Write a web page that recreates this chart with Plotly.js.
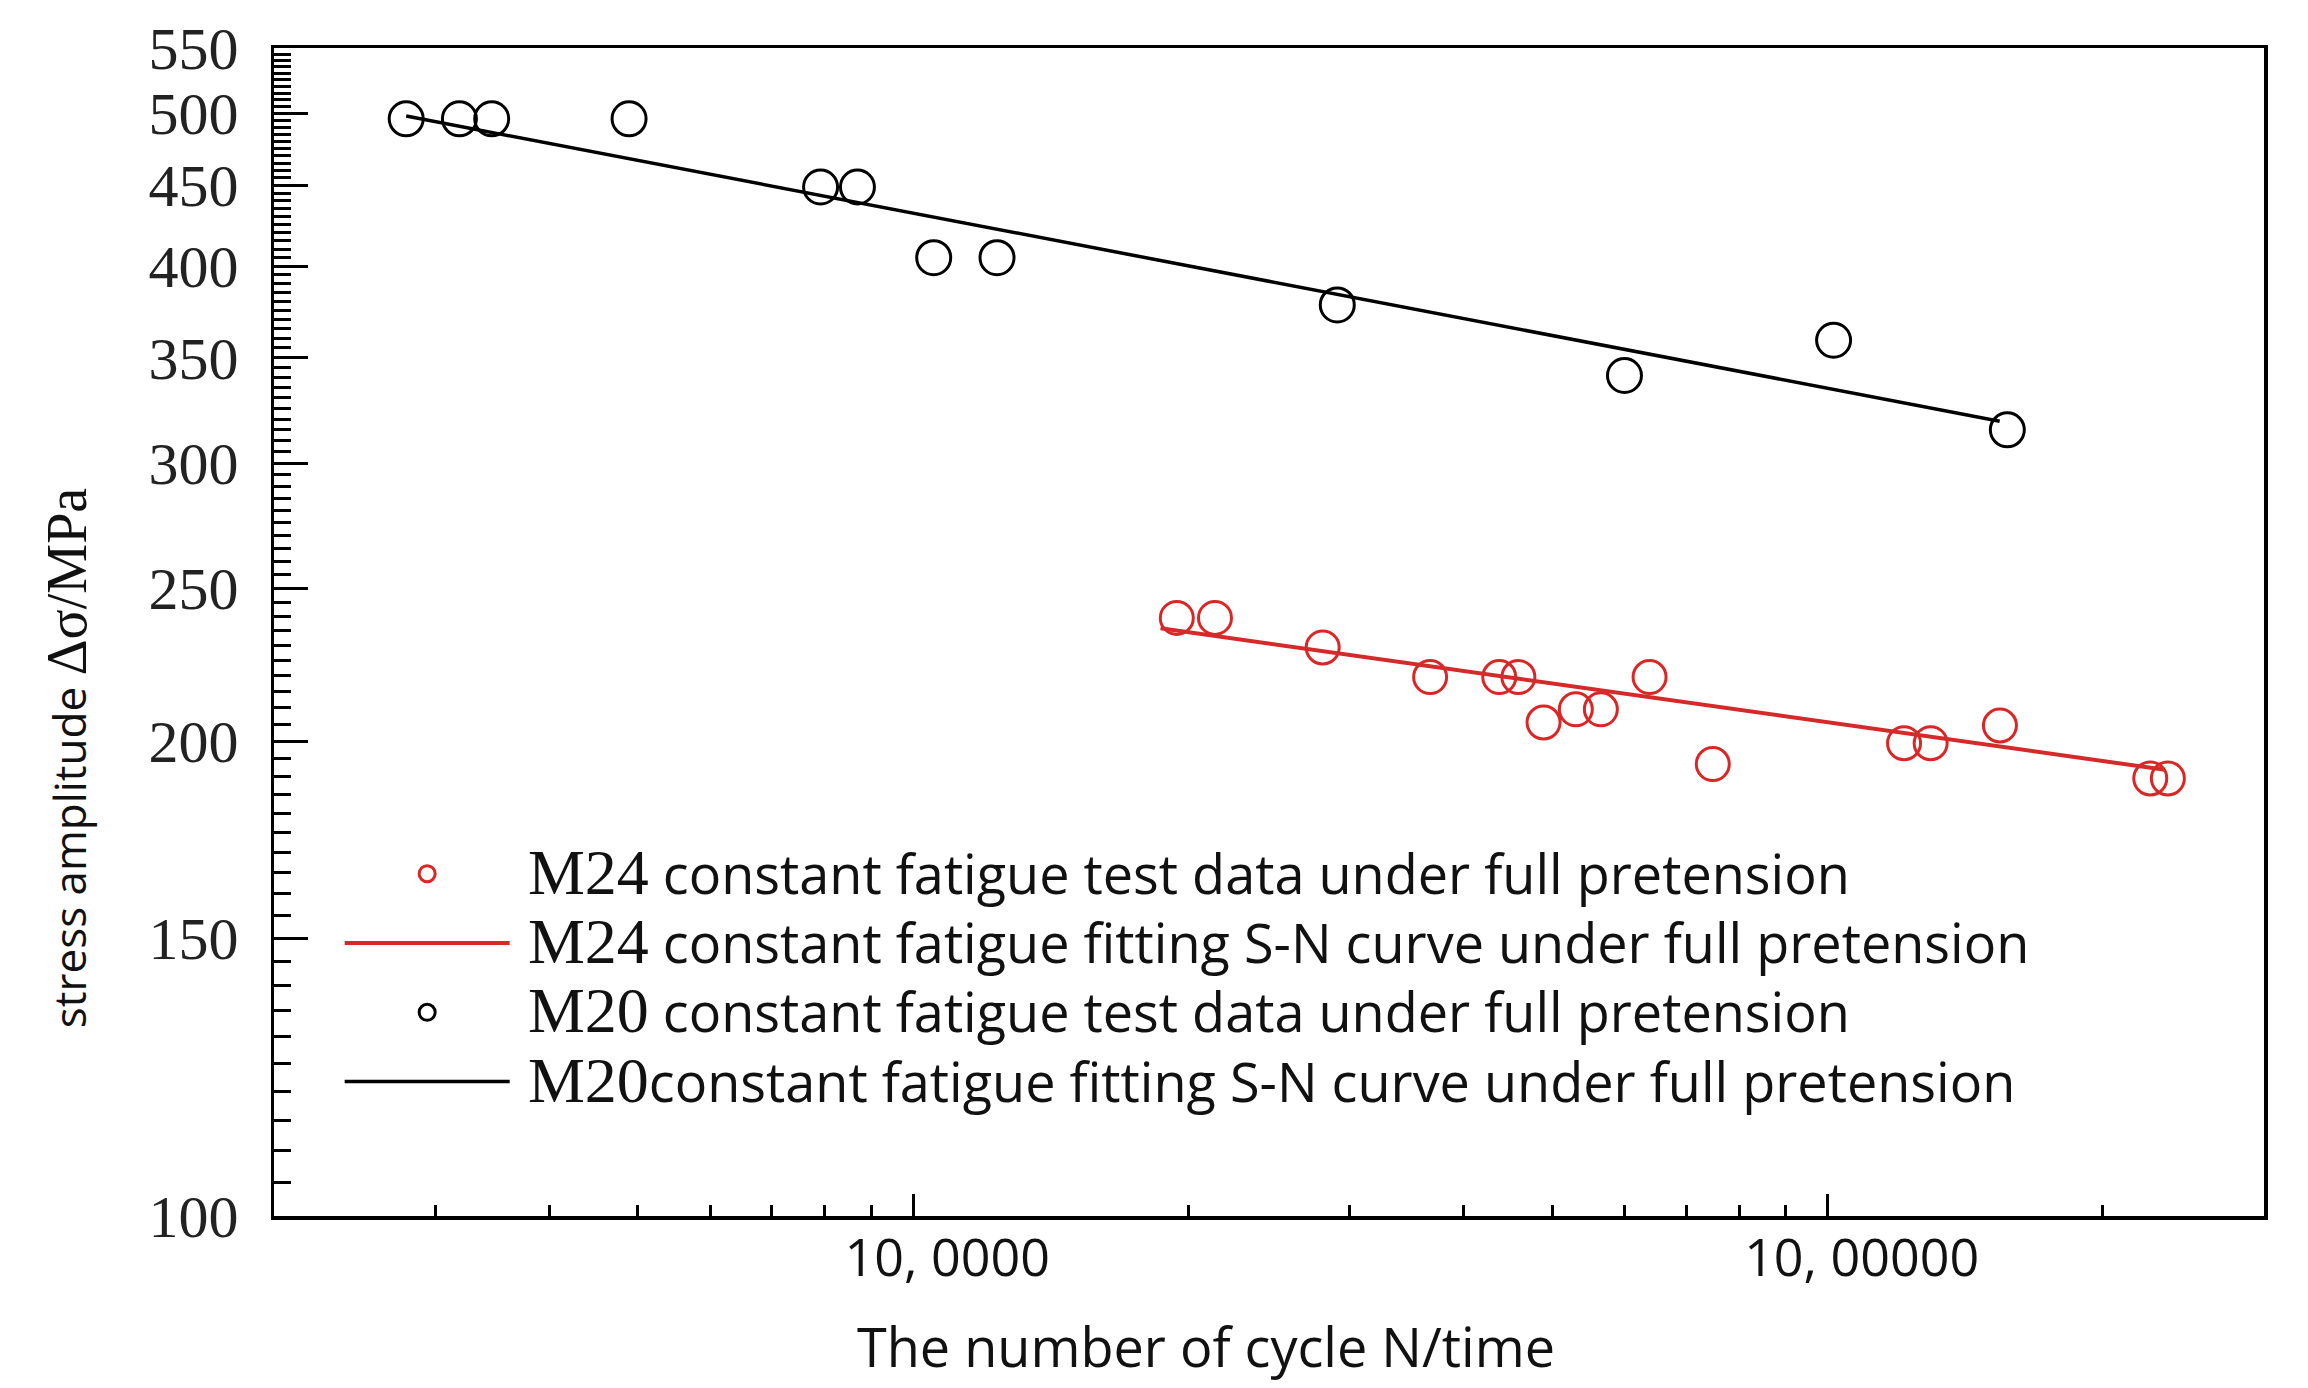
<!DOCTYPE html>
<html>
<head>
<meta charset="utf-8">
<script src="https://cdn.plot.ly/plotly-3.0.1.min.js"></script>
<style>html,body{margin:0;padding:0;background:#fff;}#chart{width:2308px;height:1388px;}</style>
</head>
<body>
<div id="chart"></div>
<script>
// ---- data ----
var m24N = [194200, 213800, 280400, 367500, 437400, 459000, 489000, 530400, 564900, 638600, 748800, 1212000, 1296000, 1543000, 2253000, 2355000];
var m24S = [239.4, 239.4, 229.3, 219.6, 219.6, 219.6, 205.5, 209.5, 209.5, 219.6, 193.4, 199.4, 199.4, 204.6, 189.4, 189.4];
var m24FitN = [186400, 2338000];
var m24FitS = [235.8, 191.8];

var m20N = [27900, 31900, 34600, 48900, 79200, 86900, 105300, 123500, 290900, 599500, 1015000, 1572000];
var m20S = [496, 496, 496, 496, 449, 449, 405, 405, 378, 341, 359, 315];
var m20FitN = [27900, 1542000];
var m20FitS = [498, 319];

var yTickVals = [100, 150, 200, 250, 300, 350, 400, 450, 500, 550];
var yTickText = ['100', '150', '200', '250', '300', '350', '400', '450', '500', '550'];
var xTickVals = [100000, 1000000];
var xTickText = ['10, 0000', '10, 00000'];

var legendNames = [
  '\u00A0<span style="font-family:Liberation Serif;font-size:64px">M24</span><span style="font-size:54px"> constant fatigue test data under full pretension</span>',
  '\u00A0<span style="font-family:Liberation Serif;font-size:64px">M24</span><span style="font-size:54px"> constant fatigue fitting S-N curve under full pretension</span>',
  '\u00A0<span style="font-family:Liberation Serif;font-size:64px">M20</span><span style="font-size:54px"> constant fatigue test data under full pretension</span>',
  '\u00A0<span style="font-family:Liberation Serif;font-size:64px">M20</span><span style="font-size:54px">constant fatigue fitting S-N curve under full pretension</span>'
];

// minor tick positions
var yMinor = [];
for (var v = 105; v < 550; v += 5) { if (v % 50 !== 0) yMinor.push(v); }
var xMinor = [];
[10000, 100000, 1000000].forEach(function (dec) {
  for (var k = 2; k <= 9; k++) { var t = k * dec; if (t >= 20000 && t <= 3000000) xMinor.push(t); }
});

var red = '#dc2626';
var traces = [
  {x: m24N, y: m24S, mode: 'markers', type: 'scatter', name: legendNames[0], legendgroup: 'a',
   marker: {symbol: 'circle-open', size: 33, color: red, line: {width: 3, color: red}}},
  {x: m24FitN, y: m24FitS, mode: 'lines', type: 'scatter', name: legendNames[1], legendgroup: 'b',
   line: {color: '#d42a2a', width: 4}},
  {x: m20N, y: m20S, mode: 'markers', type: 'scatter', name: legendNames[2], legendgroup: 'c',
   marker: {symbol: 'circle-open', size: 34, color: '#000', line: {width: 3, color: '#000'}}},
  {x: m20FitN, y: m20FitS, mode: 'lines', type: 'scatter', name: legendNames[3], legendgroup: 'd',
   line: {color: '#000', width: 3.5}}
];

var layout = {
  width: 2308, height: 1388,
  paper_bgcolor: '#fff', plot_bgcolor: '#fff',
  margin: {l: 274, r: 44, t: 48, b: 172},
  showlegend: true,
  legend: {
    x: 0.033, y: 0.327, xanchor: 'left', yanchor: 'top',
    bgcolor: 'rgba(0,0,0,0)', borderwidth: 0,
    font: {family: 'Open Sans', size: 51, color: '#111'},
    itemwidth: 165, tracegroupgap: 0, traceorder: 'normal'
  },
  xaxis: {
    type: 'log', range: [Math.log10(20000), Math.log10(3000000)],
    showline: true, linecolor: '#000', linewidth: 3.5, mirror: true,
    showgrid: false, zeroline: false,
    tickmode: 'array', tickvals: xTickVals, ticktext: xTickText,
    ticks: 'inside', ticklen: 22, tickwidth: 3, tickcolor: '#000',
    tickfont: {family: 'Open Sans', size: 52, color: '#111'},
    ticklabelshift: 34, ticklabelstandoff: -6,
    minor: {tickmode: 'array', tickvals: xMinor, ticks: 'inside', ticklen: 11, tickwidth: 3, tickcolor: '#000', showgrid: false}
  },
  yaxis: {
    type: 'log', range: [2, Math.log10(550)],
    showline: true, linecolor: '#000', linewidth: 3.5, mirror: true,
    showgrid: false, zeroline: false,
    tickmode: 'array', tickvals: yTickVals, ticktext: yTickText,
    ticks: 'inside', ticklen: 34, tickwidth: 3, tickcolor: '#000',
    tickfont: {family: 'Liberation Serif', size: 60, color: '#222'},
    ticklabelstandoff: 20,
    minor: {tickmode: 'array', tickvals: yMinor, ticks: 'inside', ticklen: 17, tickwidth: 3, tickcolor: '#000', showgrid: false}
  },
  annotations: [
    {xref: 'paper', yref: 'paper', x: -0.104, y: 0.392, xanchor: 'center', yanchor: 'middle',
     textangle: -90, showarrow: false,
     text: 'stress amplitude <span style="font-family:Liberation Serif;font-size:56px">Δσ/MPa</span>',
     font: {family: 'Open Sans', size: 44, color: '#111'}},
    {xref: 'paper', yref: 'paper', x: 0.4683, y: -0.111, xanchor: 'center', yanchor: 'middle',
     showarrow: false, text: 'The number of cycle N/time',
     font: {family: 'Open Sans', size: 54, color: '#111'}}
  ]
};

Plotly.newPlot('chart', traces, layout, {staticPlot: true, displayModeBar: false});
</script>
</body>
</html>
